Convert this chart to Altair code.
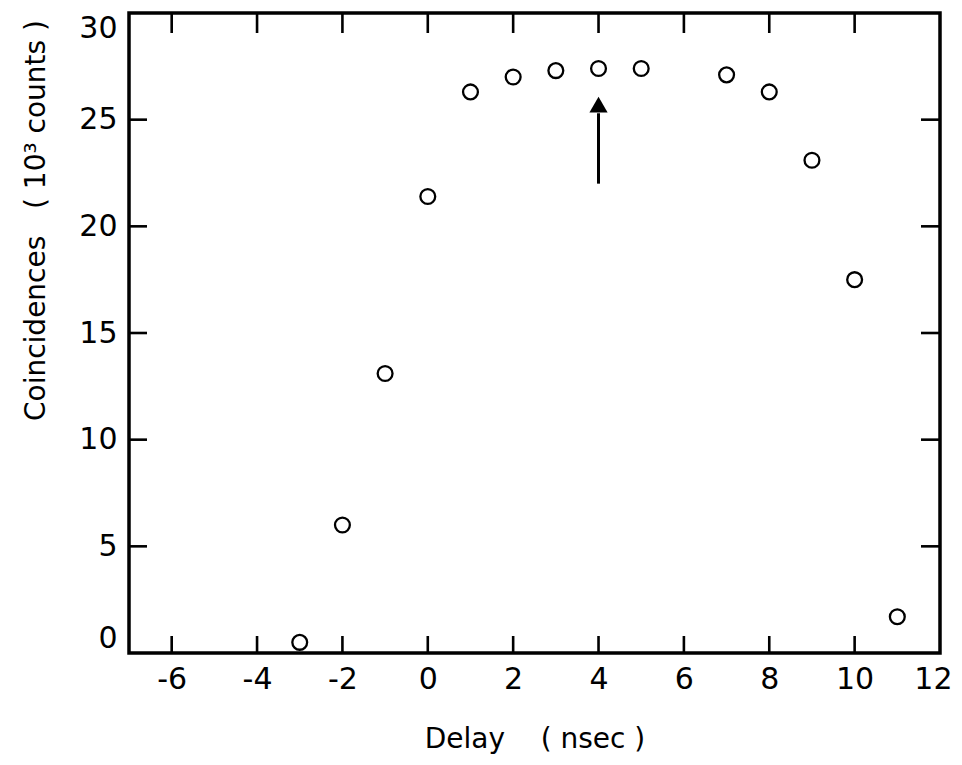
import altair as alt
import pandas as pd

delays = [-3, -2, -1, 0, 1, 2, 3, 4, 5, 7, 8, 9, 10, 11]
counts = [0.5, 6.0, 13.1, 21.4, 26.3, 27.0, 27.3, 27.4, 27.4, 27.1, 26.3, 23.1, 17.5, 1.7]

x_ticks = [-6, -4, -2, 0, 2, 4, 6, 8, 10, 12]
x_inner_ticks = [-6, -4, -2, 0, 2, 4, 6, 8, 10]
y_ticks = [0, 5, 10, 15, 20, 25, 30]
y_inner_ticks = [5, 10, 15, 20, 25]

arrow_x = [4]
arrow_tail = [22.0]
arrow_base = [25.3]
arrow_head = [25.7]

W, H = 811, 640
FONT = "DejaVu Sans"

xs = alt.Scale(domain=[-7, 12], nice=False, zero=False)
ys = alt.Scale(domain=[0, 30], nice=False, zero=False)

df = pd.DataFrame({"delay": delays, "counts": counts})
xt = pd.DataFrame({"delay": x_inner_ticks})
yt = pd.DataFrame({"counts": y_inner_ticks})
arr = pd.DataFrame({"delay": arrow_x, "counts": arrow_tail, "c2": arrow_base, "ch": arrow_head})

NB = "\u00a0"
x_title = "Delay" + NB * 4 + "(" + NB + "nsec" + NB + ")"
y_title = "Coincidences" + NB * 3 + "(" + NB + "10\u00b3" + NB + "counts" + NB + ")"

x_axis = alt.Axis(
    values=x_ticks, title=x_title, tickSize=0, domain=False, grid=False,
    labelExpr="datum.value < 0 ? '-' + abs(datum.value) : datum.label",
    labelPadding=11, labelFontSize=30, labelFont=FONT, labelColor="black",
    labelFlush=True, labelFlushOffset=12,
    titleFontSize=28, titleFont=FONT, titleFontWeight="normal", titleColor="black",
    titlePadding=31)
y_axis = alt.Axis(
    values=y_ticks, title=y_title, tickSize=0, domain=False, grid=False,
    labelPadding=12, labelFontSize=30, labelFont=FONT, labelColor="black",
    labelFlush=True, labelFlushOffset=0,
    titleFontSize=28, titleFont=FONT, titleFontWeight="normal", titleColor="black",
    titleX=-93, titleY=207, titleBaseline="middle")

X = lambda f: alt.X(f, scale=xs, axis=x_axis, title=x_title)
Y = lambda f: alt.Y(f, scale=ys, axis=y_axis, title=y_title)

points = alt.Chart(df).mark_point(
    shape="circle", filled=False, size=220, strokeWidth=2.3, color="black", opacity=1
).encode(x=X("delay:Q"), y=Y("counts:Q"))

TW = 2.6
bottom_ticks = alt.Chart(xt).mark_rule(color="black", strokeWidth=TW).encode(
    x=X("delay:Q"), y=alt.value(H), y2=alt.value(H - 17))
top_ticks = alt.Chart(xt).mark_rule(color="black", strokeWidth=TW).encode(
    x=X("delay:Q"), y=alt.value(0), y2=alt.value(20))
left_ticks = alt.Chart(yt).mark_rule(color="black", strokeWidth=TW).encode(
    y=Y("counts:Q"), x=alt.value(0), x2=alt.value(18))
right_ticks = alt.Chart(yt).mark_rule(color="black", strokeWidth=TW).encode(
    y=Y("counts:Q"), x=alt.value(W), x2=alt.value(W - 19))

shaft = alt.Chart(arr).mark_rule(color="black", strokeWidth=3).encode(
    x=X("delay:Q"), y=Y("counts:Q"), y2="c2:Q")
head = alt.Chart(arr).mark_point(shape="triangle-up", filled=True, size=330,
                                 color="black", opacity=1).encode(
    x=X("delay:Q"), y=Y("ch:Q"))

chart = alt.layer(points, bottom_ticks, top_ticks, left_ticks, right_ticks, shaft, head).properties(
    width=W, height=H,
    autosize=alt.AutoSizeParams(type="none"),
    padding={"left": 121, "top": 5, "right": 14, "bottom": 104},
    background="white",
).configure_view(stroke="black", strokeWidth=3.5)

chart.save("out.html", embed_options={"renderer": "svg", "actions": False})
